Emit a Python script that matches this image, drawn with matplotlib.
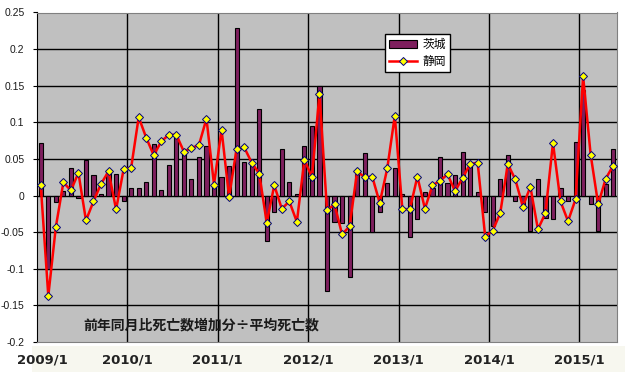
import matplotlib
matplotlib.use("Agg")
import matplotlib.pyplot as plt
import matplotlib.transforms as mtransforms
import numpy as np
from matplotlib.patches import Patch, Rectangle
from matplotlib.lines import Line2D

plt.rcParams['font.family'] = ['Liberation Sans', 'Noto Sans CJK JP', 'DejaVu Sans']

# monthly values, 2009/1 .. 2015/5
ibaraki = [0.072, -0.100, -0.009, 0.006, 0.038, -0.003, 0.048, 0.028, 0.002, 0.034, 0.030, -0.008,
           0.010, 0.010, 0.018, 0.071, 0.008, 0.042, 0.082, 0.063, 0.023, 0.053, 0.068, 0.013,
           0.025, 0.041, 0.229, 0.046, 0.042, 0.118, -0.062, -0.022, 0.064, 0.018, 0.002, 0.068,
           0.095, 0.149, -0.131, -0.036, -0.037, -0.111, 0.030, 0.058, -0.050, -0.022, 0.017, 0.037,
           0.002, -0.057, -0.032, 0.005, 0.010, 0.053, 0.017, 0.028, 0.059, 0.043, 0.005, -0.022,
           -0.042, 0.022, 0.055, -0.007, -0.012, -0.049, 0.023, -0.030, -0.032, 0.011, -0.008, 0.073,
           0.144, -0.011, -0.049, 0.016, 0.064]
shizuoka = [0.014, -0.137, -0.043, 0.018, 0.007, 0.031, -0.034, -0.008, 0.016, 0.033, -0.019, 0.036,
            0.038, 0.107, 0.079, 0.055, 0.074, 0.083, 0.083, 0.060, 0.065, 0.069, 0.105, 0.015,
            0.090, -0.002, 0.064, 0.066, 0.045, 0.030, -0.037, 0.014, -0.018, -0.008, -0.036, 0.049,
            0.025, 0.139, -0.020, -0.012, -0.053, -0.042, 0.033, 0.025, 0.026, -0.010, 0.037, 0.109,
            -0.018, -0.019, 0.026, -0.018, 0.014, 0.020, 0.029, 0.006, 0.024, 0.043, 0.045, -0.056,
            -0.048, -0.024, 0.043, 0.022, -0.015, 0.012, -0.046, -0.024, 0.072, -0.008, -0.035, -0.005,
            0.163, 0.056, -0.012, 0.023, 0.041]
years = ['2009/1', '2010/1', '2011/1', '2012/1', '2013/1', '2014/1', '2015/1']
series_names = ['茨城', '静岡']
y_ticks = [-0.2, -0.15, -0.1, -0.05, 0, 0.05, 0.1, 0.15, 0.2, 0.25]
y_labels = ['-0.2', '-0.15', '-0.1', '-0.05', '0', '0.05', '0.1', '0.15', '0.2', '0.25']
note = '前年同月比死亡数増加分÷平均死亡数'

fig = plt.figure(figsize=(6.25, 3.72), dpi=100)
fig.patch.set_facecolor('white')
# light band behind the year labels
fig.patches.append(Rectangle((32 / 625, 0), 1 - 32 / 625, 26 / 372, transform=fig.transFigure,
                             facecolor='#F7F7EF', edgecolor='none', zorder=0))

ax = fig.add_axes([37 / 625, 30 / 372, 580 / 625, 329.5 / 372])
ax.set_zorder(2)
ax.set_facecolor('#C0C0C0')

x = np.arange(len(ibaraki))
ax.set_xlim(-0.5, len(ibaraki) - 0.5)
ax.set_ylim(-0.2, 0.25)

# grid
for yv in y_ticks[1:-1]:
    ax.axhline(yv, color='black', lw=1.0, zorder=1)
for k in range(1, len(years)):
    ax.axvline(12 * k - 0.5, color='black', lw=1.0, zorder=1)

ax.bar(x, ibaraki, width=0.55, color='#7E1F5E', edgecolor='black', linewidth=0.8, zorder=2)
ax.plot(x, shizuoka, color='#FF0000', lw=1.8, marker='D', markersize=4.5,
        markerfacecolor='#FFFF00', markeredgecolor='#000080', markeredgewidth=0.7, zorder=3)

ax.set_yticks(y_ticks)
ax.set_yticklabels(y_labels, fontsize=7.5, color='#1a1a1a')
ax.tick_params(axis='y', length=3, pad=6, width=0.8)
ax.set_xticks([])

ax.spines['left'].set_color('black')
for s in ['top', 'right', 'bottom']:
    ax.spines[s].set_color('#808080')

# year labels under the plot
label_trans = mtransforms.blended_transform_factory(ax.transData, fig.transFigure)
year_pos = [0.2] + [12 * k - 0.5 for k in range(1, len(years))]
for pos, lab in zip(year_pos, years):
    ax.text(pos, 12 / 372, lab, transform=label_trans, ha='center', va='center',
            fontsize=9.5, fontweight='bold', color='#222222', family='DejaVu Sans')

ax.text(5.6, -0.178, note, ha='left', va='center', fontsize=10, fontweight='bold',
        color='#1a1a1a', family=['Noto Sans CJK JP', 'DejaVu Sans'], zorder=4)

handles = [Patch(facecolor='#7E1F5E', edgecolor='black', linewidth=0.8),
           Line2D([], [], color='#FF0000', lw=1.8, marker='D', markersize=4.5,
                  markerfacecolor='#FFFF00', markeredgecolor='#000080', markeredgewidth=0.7)]
leg = ax.legend(handles, series_names, loc='upper left', bbox_to_anchor=(385 / 625, 1 - 34 / 372),
                bbox_transform=fig.transFigure, fancybox=False, framealpha=1, edgecolor='black',
                prop={'family': 'Noto Sans CJK JP', 'size': 8.5}, handlelength=2.4, handleheight=0.6,
                borderpad=0.35, labelspacing=0.3, handletextpad=0.4, borderaxespad=0)
leg.get_frame().set_linewidth(1.0)
leg.set_zorder(5)

fig.savefig('out.png', dpi=100)
